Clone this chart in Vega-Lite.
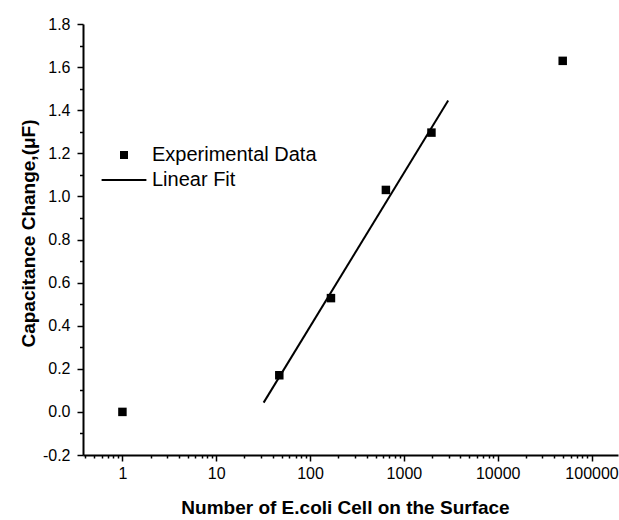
{
  "$schema": "https://vega.github.io/schema/vega-lite/v6.json",
  "width": 535,
  "height": 431,
  "autosize": "none",
  "padding": {"left": 83, "top": 24, "right": 1, "bottom": 65},
  "config": {
    "font": "Liberation Sans",
    "view": {"stroke": null},
    "axis": {
      "grid": false,
      "domainColor": "black",
      "domainWidth": 2,
      "tickColor": "black",
      "tickWidth": 1.5,
      "labelColor": "black",
      "labelFontSize": 16,
      "labelFont": "Liberation Sans",
      "titleFont": "Liberation Sans",
      "titleFontSize": 19,
      "titleFontWeight": "bold",
      "titleColor": "black",
      "labelOverlap": false,
      "labelFlush": false,
      "labelBound": false
    }
  },
  "datasets": {
    "exp": [
      {"cells": 1, "cap": 0.0, "series": "Experimental Data"},
      {"cells": 47, "cap": 0.17, "series": "Experimental Data"},
      {"cells": 167, "cap": 0.528, "series": "Experimental Data"},
      {"cells": 643, "cap": 1.03, "series": "Experimental Data"},
      {"cells": 1967, "cap": 1.296, "series": "Experimental Data"},
      {"cells": 49300, "cap": 1.629, "series": "Experimental Data"}
    ],
    "fit": [
      {"cells": 32, "cap": 0.043, "series": "Linear Fit"},
      {"cells": 2965, "cap": 1.445, "series": "Linear Fit"}
    ]
  },
  "encoding": {
    "x": {
      "field": "cells",
      "type": "quantitative",
      "scale": {"type": "log", "domain": [0.38, 191500]},
      "axis": {
        "title": "Number of E.coli Cell on the Surface",
        "values": [0.4, 0.5, 0.6, 0.7, 0.8, 0.9, 1, 2, 3, 4, 5, 6, 7, 8, 9, 10, 20, 30, 40, 50, 60, 70, 80, 90, 100, 200, 300, 400, 500, 600, 700, 800, 900, 1000, 2000, 3000, 4000, 5000, 6000, 7000, 8000, 9000, 10000, 20000, 30000, 40000, 50000, 60000, 70000, 80000, 90000, 100000],
        "labelExpr": "abs(log(datum.value)/LN10 - round(log(datum.value)/LN10)) < 0.000001 ? format(datum.value, 'd') : ''",
        "tickSize": {"condition": {"test": "abs(log(datum.value)/LN10 - round(log(datum.value)/LN10)) < 0.000001", "value": 6}, "value": 3},
        "labelPadding": 4,
        "titleX": 262,
        "titleY": 52,
        "titleBaseline": "middle"
      }
    },
    "y": {
      "field": "cap",
      "type": "quantitative",
      "scale": {"domain": [-0.2, 1.8], "nice": false, "zero": false},
      "axis": {
        "title": "Capacitance Change,(μF)",
        "values": [-0.2, -0.1, 0, 0.1, 0.2, 0.3, 0.4, 0.5, 0.6, 0.7, 0.8, 0.9, 1.0, 1.1, 1.2, 1.3, 1.4, 1.5, 1.6, 1.7, 1.8],
        "labelExpr": "abs(datum.value*5 - round(datum.value*5)) < 0.000001 ? replace(format(datum.value, '.1f'), '\u2212', '-') : ''",
        "tickSize": {"condition": {"test": "abs(datum.value*5 - round(datum.value*5)) < 0.000001", "value": 6}, "value": 3.5},
        "labelPadding": 7,
        "titleX": -55,
        "titleY": 209,
        "titleBaseline": "middle"
      }
    }
  },
  "layer": [
    {
      "data": {"name": "fit"},
      "mark": {"type": "line", "color": "black", "strokeWidth": 2}
    },
    {
      "data": {"name": "exp"},
      "mark": {"type": "point", "filled": true, "color": "black", "opacity": 1, "size": 72},
      "encoding": {
        "shape": {
          "field": "series",
          "type": "nominal",
          "scale": {"domain": ["Experimental Data", "Linear Fit"], "range": ["square", "M-5.6,-0.25L5.6,-0.25L5.6,0.25L-5.6,0.25Z"]},
          "legend": {
            "orient": "none",
            "legendX": 31,
            "legendY": 121,
            "title": null,
            "padding": 0,
            "labelFontSize": 20,
            "labelColor": "black",
            "labelFont": "Liberation Sans",
            "labelLimit": 0,
            "labelOffset": 18,
            "rowPadding": 5,
            "symbolSize": 64,
            "symbolFillColor": "black",
            "symbolStrokeWidth": 0,
            "symbolOpacity": 1
          }
        }
      }
    }
  ]
}
